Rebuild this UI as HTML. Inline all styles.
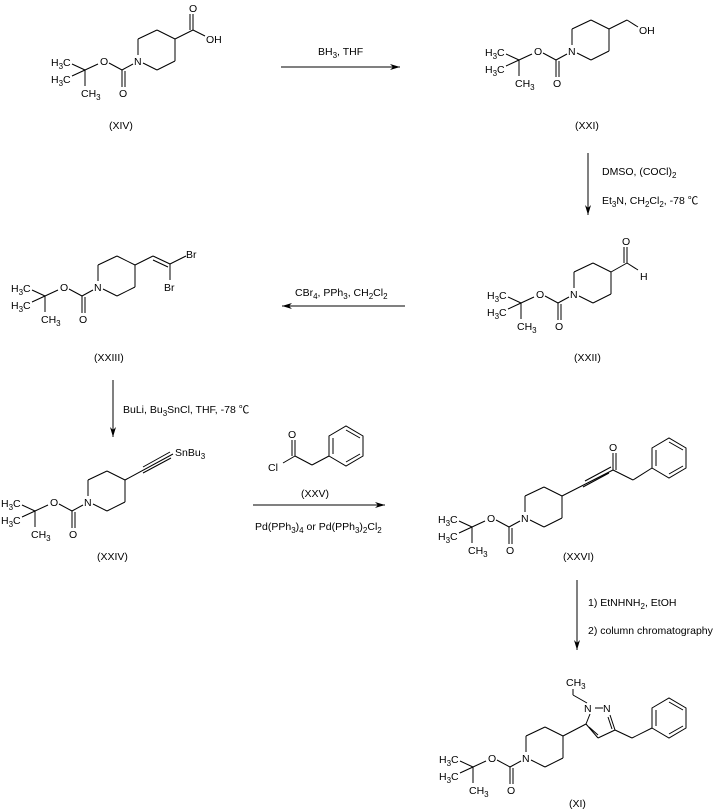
<!DOCTYPE html>
<html><head><meta charset="utf-8"><style>
html,body{margin:0;padding:0;background:#fff;}
svg{display:block;}
text{font-family:"Liberation Sans","Noto Sans CJK SC",sans-serif;font-size:10.5px;fill:#000;}
.s{font-size:8px;}
line,polyline,polygon{stroke:#000;stroke-width:1;fill:none;}
</style></head><body>
<svg width="716" height="810" viewBox="0 0 716 810" xmlns="http://www.w3.org/2000/svg">
<defs>
<marker id="ah" viewBox="0 0 10 6" refX="10" refY="3" markerWidth="10" markerHeight="6" orient="auto" markerUnits="userSpaceOnUse"><path d="M0,0 L10,3 L0,6 L3,3 z" fill="#000"/></marker>
</defs>

<!-- XIV -->
<g transform="translate(138,61)">
<line x1="0" y1="-6" x2="0" y2="-22"/><line x1="0" y1="-22" x2="19" y2="-31"/><line x1="19" y1="-31" x2="37" y2="-22"/><line x1="37" y1="-22" x2="37" y2="0"/><line x1="37" y1="0" x2="19" y2="9"/><line x1="19" y1="9" x2="5" y2="2"/>
<line x1="-5" y1="3" x2="-16" y2="9"/><line x1="-16" y1="9" x2="-16" y2="26"/><line x1="-13" y1="10" x2="-13" y2="26"/><line x1="-16" y1="9" x2="-29" y2="2"/><line x1="-40" y1="3" x2="-53" y2="9"/><line x1="-53" y1="9" x2="-66" y2="3"/><line x1="-53" y1="9" x2="-66" y2="15"/><line x1="-53" y1="9" x2="-53" y2="25"/>
<text x="-4" y="4">N</text><text x="-38" y="4">O</text><text x="-19" y="36">O</text>
<text x="-87" y="5">H<tspan class="s" dy="3">3</tspan><tspan dy="-3">C</tspan></text>
<text x="-87" y="22">H<tspan class="s" dy="3">3</tspan><tspan dy="-3">C</tspan></text>
<text x="-57" y="36">CH<tspan class="s" dy="3">3</tspan></text>
<line x1="37" y1="-22" x2="55" y2="-31"/><line x1="55" y1="-31" x2="55" y2="-47"/><line x1="52" y1="-31" x2="52" y2="-47"/><line x1="55" y1="-31" x2="67" y2="-25"/>
<text x="51" y="-49">O</text><text x="68" y="-18">OH</text>
</g>
<text x="109" y="129">(XIV)</text>

<!-- arrow 1 -->
<line x1="281" y1="67" x2="400" y2="67" marker-end="url(#ah)"/>
<text x="318" y="55">BH<tspan class="s" dy="3">3</tspan><tspan dy="-3">, THF</tspan></text>

<!-- XXI -->
<g transform="translate(572,51)">
<line x1="0" y1="-6" x2="0" y2="-22"/><line x1="0" y1="-22" x2="19" y2="-31"/><line x1="19" y1="-31" x2="37" y2="-22"/><line x1="37" y1="-22" x2="37" y2="0"/><line x1="37" y1="0" x2="19" y2="9"/><line x1="19" y1="9" x2="5" y2="2"/>
<line x1="-5" y1="3" x2="-16" y2="9"/><line x1="-16" y1="9" x2="-16" y2="26"/><line x1="-13" y1="10" x2="-13" y2="26"/><line x1="-16" y1="9" x2="-29" y2="2"/><line x1="-40" y1="3" x2="-53" y2="9"/><line x1="-53" y1="9" x2="-66" y2="3"/><line x1="-53" y1="9" x2="-66" y2="15"/><line x1="-53" y1="9" x2="-53" y2="25"/>
<text x="-4" y="4">N</text><text x="-38" y="4">O</text><text x="-19" y="36">O</text>
<text x="-87" y="5">H<tspan class="s" dy="3">3</tspan><tspan dy="-3">C</tspan></text>
<text x="-87" y="22">H<tspan class="s" dy="3">3</tspan><tspan dy="-3">C</tspan></text>
<text x="-57" y="36">CH<tspan class="s" dy="3">3</tspan></text>
<line x1="37" y1="-22" x2="55" y2="-31"/><line x1="55" y1="-31" x2="66" y2="-24"/>
<text x="67" y="-17">OH</text>
</g>
<text x="575" y="129">(XXI)</text>

<!-- arrow 2 -->
<line x1="588" y1="153" x2="588" y2="215" marker-end="url(#ah)"/>
<text x="602" y="175">DMSO, (COCl)<tspan class="s" dy="3">2</tspan></text>
<text x="602" y="204">Et<tspan class="s" dy="3">3</tspan><tspan dy="-3">N, CH</tspan><tspan class="s" dy="3">2</tspan><tspan dy="-3">Cl</tspan><tspan class="s" dy="3">2</tspan><tspan dy="-3">, -78 ℃</tspan></text>

<!-- XXII -->
<g transform="translate(574,294)">
<line x1="0" y1="-6" x2="0" y2="-22"/><line x1="0" y1="-22" x2="19" y2="-31"/><line x1="19" y1="-31" x2="37" y2="-22"/><line x1="37" y1="-22" x2="37" y2="0"/><line x1="37" y1="0" x2="19" y2="9"/><line x1="19" y1="9" x2="5" y2="2"/>
<line x1="-5" y1="3" x2="-16" y2="9"/><line x1="-16" y1="9" x2="-16" y2="26"/><line x1="-13" y1="10" x2="-13" y2="26"/><line x1="-16" y1="9" x2="-29" y2="2"/><line x1="-40" y1="3" x2="-53" y2="9"/><line x1="-53" y1="9" x2="-66" y2="3"/><line x1="-53" y1="9" x2="-66" y2="15"/><line x1="-53" y1="9" x2="-53" y2="25"/>
<text x="-4" y="4">N</text><text x="-38" y="4">O</text><text x="-19" y="36">O</text>
<text x="-87" y="5">H<tspan class="s" dy="3">3</tspan><tspan dy="-3">C</tspan></text>
<text x="-87" y="22">H<tspan class="s" dy="3">3</tspan><tspan dy="-3">C</tspan></text>
<text x="-57" y="36">CH<tspan class="s" dy="3">3</tspan></text>
<line x1="37" y1="-22" x2="53" y2="-31"/><line x1="53" y1="-31" x2="53" y2="-47"/><line x1="50" y1="-31" x2="50" y2="-47"/><line x1="53" y1="-31" x2="64" y2="-24"/>
<text x="48" y="-49">O</text><text x="66" y="-14">H</text>
</g>
<text x="574" y="361">(XXII)</text>

<!-- arrow 3 -->
<line x1="405" y1="306" x2="282" y2="306" marker-end="url(#ah)"/>
<text x="295" y="296">CBr<tspan class="s" dy="3">4</tspan><tspan dy="-3">, PPh</tspan><tspan class="s" dy="3">3</tspan><tspan dy="-3">, CH</tspan><tspan class="s" dy="3">2</tspan><tspan dy="-3">Cl</tspan><tspan class="s" dy="3">2</tspan></text>

<!-- XXIII -->
<g transform="translate(98,287)">
<line x1="0" y1="-6" x2="0" y2="-22"/><line x1="0" y1="-22" x2="19" y2="-31"/><line x1="19" y1="-31" x2="37" y2="-22"/><line x1="37" y1="-22" x2="37" y2="0"/><line x1="37" y1="0" x2="19" y2="9"/><line x1="19" y1="9" x2="5" y2="2"/>
<line x1="-5" y1="3" x2="-16" y2="9"/><line x1="-16" y1="9" x2="-16" y2="26"/><line x1="-13" y1="10" x2="-13" y2="26"/><line x1="-16" y1="9" x2="-29" y2="2"/><line x1="-40" y1="3" x2="-53" y2="9"/><line x1="-53" y1="9" x2="-66" y2="3"/><line x1="-53" y1="9" x2="-66" y2="15"/><line x1="-53" y1="9" x2="-53" y2="25"/>
<text x="-4" y="4">N</text><text x="-38" y="4">O</text><text x="-19" y="36">O</text>
<text x="-87" y="5">H<tspan class="s" dy="3">3</tspan><tspan dy="-3">C</tspan></text>
<text x="-87" y="22">H<tspan class="s" dy="3">3</tspan><tspan dy="-3">C</tspan></text>
<text x="-57" y="36">CH<tspan class="s" dy="3">3</tspan></text>
<line x1="37" y1="-22" x2="55" y2="-31"/><line x1="55" y1="-31" x2="72" y2="-23"/><line x1="55" y1="-27" x2="70" y2="-20"/><line x1="72" y1="-23" x2="88" y2="-31"/><line x1="72" y1="-23" x2="72" y2="-7"/>
<text x="88" y="-29">Br</text><text x="66" y="4">Br</text>
</g>
<text x="94" y="361">(XXIII)</text>

<!-- arrow 4 -->
<line x1="113" y1="380" x2="113" y2="437" marker-end="url(#ah)"/>
<text x="123" y="413">BuLi, Bu<tspan class="s" dy="3">3</tspan><tspan dy="-3">SnCl, THF, -78 ℃</tspan></text>

<!-- XXIV -->
<g transform="translate(88,502)">
<line x1="0" y1="-6" x2="0" y2="-22"/><line x1="0" y1="-22" x2="19" y2="-31"/><line x1="19" y1="-31" x2="37" y2="-22"/><line x1="37" y1="-22" x2="37" y2="0"/><line x1="37" y1="0" x2="19" y2="9"/><line x1="19" y1="9" x2="5" y2="2"/>
<line x1="-5" y1="3" x2="-16" y2="9"/><line x1="-16" y1="9" x2="-16" y2="26"/><line x1="-13" y1="10" x2="-13" y2="26"/><line x1="-16" y1="9" x2="-29" y2="2"/><line x1="-40" y1="3" x2="-53" y2="9"/><line x1="-53" y1="9" x2="-66" y2="3"/><line x1="-53" y1="9" x2="-66" y2="15"/><line x1="-53" y1="9" x2="-53" y2="25"/>
<text x="-4" y="4">N</text><text x="-38" y="4">O</text><text x="-19" y="36">O</text>
<text x="-87" y="5">H<tspan class="s" dy="3">3</tspan><tspan dy="-3">C</tspan></text>
<text x="-87" y="22">H<tspan class="s" dy="3">3</tspan><tspan dy="-3">C</tspan></text>
<text x="-57" y="36">CH<tspan class="s" dy="3">3</tspan></text>
<line x1="37" y1="-22" x2="85" y2="-48"/><line x1="55" y1="-35" x2="82" y2="-50"/><line x1="55" y1="-29" x2="83" y2="-44"/>
<text x="87" y="-46">SnBu<tspan class="s" dy="3">3</tspan></text>
</g>
<text x="97" y="560">(XXIV)</text>

<!-- XXV -->
<line x1="295" y1="456" x2="312" y2="465"/><line x1="295" y1="456" x2="295" y2="440"/><line x1="292" y1="456" x2="292" y2="440"/><line x1="295" y1="456" x2="283" y2="463"/>
<text x="288" y="438">O</text><text x="268" y="471">Cl</text>
<line x1="312" y1="465" x2="329" y2="456"/>
<polygon points="329,456 329,436 346,426 363,436 363,456 346,466"/>
<line x1="333" y1="438" x2="333" y2="454"/><line x1="346" y1="430" x2="360" y2="438"/><line x1="346" y1="462" x2="360" y2="454"/>
<text x="301" y="497">(XXV)</text>

<!-- arrow 5 -->
<line x1="253" y1="505" x2="385" y2="505" marker-end="url(#ah)"/>
<text x="255" y="530">Pd(PPh<tspan class="s" dy="3">3</tspan><tspan dy="-3">)</tspan><tspan class="s" dy="3">4</tspan><tspan dy="-3"> or Pd(PPh</tspan><tspan class="s" dy="3">3</tspan><tspan dy="-3">)</tspan><tspan class="s" dy="3">2</tspan><tspan dy="-3">Cl</tspan><tspan class="s" dy="3">2</tspan></text>

<!-- XXVI -->
<g transform="translate(525,518)">
<line x1="0" y1="-6" x2="0" y2="-22"/><line x1="0" y1="-22" x2="19" y2="-31"/><line x1="19" y1="-31" x2="37" y2="-22"/><line x1="37" y1="-22" x2="37" y2="0"/><line x1="37" y1="0" x2="19" y2="9"/><line x1="19" y1="9" x2="5" y2="2"/>
<line x1="-5" y1="3" x2="-16" y2="9"/><line x1="-16" y1="9" x2="-16" y2="26"/><line x1="-13" y1="10" x2="-13" y2="26"/><line x1="-16" y1="9" x2="-29" y2="2"/><line x1="-40" y1="3" x2="-53" y2="9"/><line x1="-53" y1="9" x2="-66" y2="3"/><line x1="-53" y1="9" x2="-66" y2="15"/><line x1="-53" y1="9" x2="-53" y2="25"/>
<text x="-4" y="4">N</text><text x="-38" y="4">O</text><text x="-19" y="36">O</text>
<text x="-87" y="5">H<tspan class="s" dy="3">3</tspan><tspan dy="-3">C</tspan></text>
<text x="-87" y="22">H<tspan class="s" dy="3">3</tspan><tspan dy="-3">C</tspan></text>
<text x="-57" y="36">CH<tspan class="s" dy="3">3</tspan></text>
<line x1="37" y1="-22" x2="88" y2="-48"/><line x1="60" y1="-37" x2="86" y2="-51"/><line x1="58" y1="-31" x2="84" y2="-45"/>
<line x1="88" y1="-48" x2="88" y2="-65"/><line x1="91" y1="-48" x2="91" y2="-65"/>
<text x="84" y="-67">O</text>
<line x1="88" y1="-48" x2="108" y2="-38"/><line x1="108" y1="-38" x2="127" y2="-50"/>
<polygon points="127,-50 127,-70 144,-80 161,-70 161,-50 144,-40"/>
<line x1="131" y1="-68" x2="131" y2="-52"/><line x1="144" y1="-76" x2="158" y2="-68"/><line x1="144" y1="-44" x2="158" y2="-52"/>
</g>
<text x="563" y="560">(XXVI)</text>

<!-- arrow 6 -->
<line x1="577" y1="580" x2="577" y2="650" marker-end="url(#ah)"/>
<text x="588" y="606">1) EtNHNH<tspan class="s" dy="3">2</tspan><tspan dy="-3">, EtOH</tspan></text>
<text x="588" y="634">2) column chromatography</text>

<!-- XI -->
<g transform="translate(526,758)">
<line x1="0" y1="-6" x2="0" y2="-22"/><line x1="0" y1="-22" x2="19" y2="-31"/><line x1="19" y1="-31" x2="37" y2="-22"/><line x1="37" y1="-22" x2="37" y2="0"/><line x1="37" y1="0" x2="19" y2="9"/><line x1="19" y1="9" x2="5" y2="2"/>
<line x1="-5" y1="3" x2="-16" y2="9"/><line x1="-16" y1="9" x2="-16" y2="26"/><line x1="-13" y1="10" x2="-13" y2="26"/><line x1="-16" y1="9" x2="-29" y2="2"/><line x1="-40" y1="3" x2="-53" y2="9"/><line x1="-53" y1="9" x2="-66" y2="3"/><line x1="-53" y1="9" x2="-66" y2="15"/><line x1="-53" y1="9" x2="-53" y2="25"/>
<text x="-4" y="4">N</text><text x="-38" y="4">O</text><text x="-19" y="36">O</text>
<text x="-87" y="5">H<tspan class="s" dy="3">3</tspan><tspan dy="-3">C</tspan></text>
<text x="-87" y="22">H<tspan class="s" dy="3">3</tspan><tspan dy="-3">C</tspan></text>
<text x="-57" y="36">CH<tspan class="s" dy="3">3</tspan></text>
<line x1="37" y1="-22" x2="60" y2="-34"/>
<line x1="60" y1="-34" x2="64" y2="-44"/><line x1="60" y1="-34" x2="72" y2="-20"/><line x1="63" y1="-31" x2="72" y2="-23"/><line x1="72" y1="-20" x2="89" y2="-28"/><line x1="89" y1="-28" x2="84" y2="-43"/><line x1="86" y1="-29" x2="82" y2="-41"/><line x1="69" y1="-50" x2="77" y2="-50"/>
<text x="58" y="-46">N</text><text x="77" y="-46">N</text>
<line x1="61" y1="-55" x2="47" y2="-63"/><line x1="47" y1="-63" x2="47" y2="-69"/>
<text x="40" y="-72">CH<tspan class="s" dy="3">3</tspan></text>
<line x1="89" y1="-28" x2="106" y2="-20"/><line x1="106" y1="-20" x2="126" y2="-30"/>
<polygon points="126,-30 126,-50 143,-60 160,-50 160,-30 143,-20"/>
<line x1="130" y1="-48" x2="130" y2="-32"/><line x1="143" y1="-56" x2="157" y2="-48"/><line x1="143" y1="-24" x2="157" y2="-32"/>
</g>
<text x="569" y="807">(XI)</text>
</svg>
</body></html>
